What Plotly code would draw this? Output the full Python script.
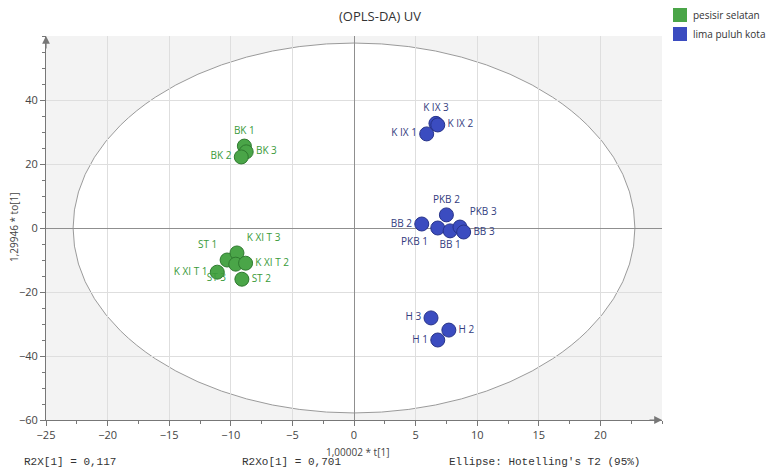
import plotly.graph_objects as go

# ---- data ----
green_labels = ["BK 1", "BK 3", "BK 2", "ST 1", "K XI T 3", "ST 3", "K XI T 2", "K XI T 1", "ST 2"]
green_x = [-8.9, -8.75, -9.15, -10.3, -9.5, -9.6, -8.8, -11.1, -9.1]
green_y = [25.6, 23.8, 22.2, -10.0, -7.8, -11.3, -11.0, -13.8, -16.0]
green_pos = ["top center", "middle right", "middle left", "top left", "top right",
             "bottom left", "middle right", "middle left", "middle right"]

blue_labels = ["K IX 3", "K IX 2", "K IX 1", "PKB 2", "BB 2", "PKB 1", "BB 1", "PKB 3", "BB 3",
               "H 3", "H 2", "H 1"]
blue_x = [6.65, 6.8, 5.9, 7.5, 5.5, 6.8, 7.8, 8.6, 8.9, 6.25, 7.7, 6.8]
blue_y = [32.7, 32.2, 29.4, 4.1, 1.25, 0.0, -0.9, 0.3, -1.25, -28.1, -31.9, -35.0]
blue_pos = ["top center", "middle right", "middle left", "top center", "middle left", "bottom left",
            "bottom center", "top right", "middle right", "middle left", "middle right", "middle left"]

legend_names = ["pesisir selatan", "lima puluh kota"]
x_ticks = [-25, -20, -15, -10, -5, 0, 5, 10, 15, 20]
y_ticks = [-60, -40, -20, 0, 20, 40]
ellipse_a = 22.8
ellipse_b = 57.8

GREEN = "#4aa548"
GREEN_EDGE = "#2f7a2f"
BLUE = "#3b4cc0"
BLUE_EDGE = "#27338a"
FONT = "Open Sans"

W, H = 771, 472
ML, MR, MT, MB = 46, 109, 36, 52
PW, PH = W - ML - MR, H - MT - MB


def px_x(px):
    return (px - ML) / PW


def px_y(py):
    return (H - MB - py) / PH


fig = go.Figure()

fig.add_trace(go.Scatter(
    x=green_x, y=green_y, text=green_labels, mode="markers+text", name=legend_names[0],
    textposition=green_pos, showlegend=False,
    marker=dict(size=14, color=GREEN, line=dict(color=GREEN_EDGE, width=1)),
    textfont=dict(family=FONT, size=10, color="#3a9a3a"),
    cliponaxis=False,
))
fig.add_trace(go.Scatter(
    x=blue_x, y=blue_y, text=blue_labels, mode="markers+text", name=legend_names[1],
    textposition=blue_pos, showlegend=False,
    marker=dict(size=14, color=BLUE, line=dict(color=BLUE_EDGE, width=1)),
    textfont=dict(family=FONT, size=10, color="#333d80"),
    cliponaxis=False,
))

shapes = [
    dict(type="circle", xref="x", yref="y", x0=-ellipse_a, x1=ellipse_a, y0=-ellipse_b, y1=ellipse_b,
         fillcolor="white", line=dict(color="#9a9a9a", width=1), layer="below"),
]

annotations = [
    # axis arrowheads
    dict(x=-25, y=60, xref="x", yref="y", ax=0, ay=14, text="",
         showarrow=True, arrowhead=2, arrowsize=1.3, arrowwidth=1.2, arrowcolor="#777"),
    dict(x=25, y=-60, xref="x", yref="y", ax=-14, ay=0, text="",
         showarrow=True, arrowhead=2, arrowsize=1.3, arrowwidth=1.2, arrowcolor="#777"),
    # axis titles
    dict(x=px_x(357), y=px_y(452), xref="paper", yref="paper", text="1,00002 * t[1]", showarrow=False,
         font=dict(family=FONT, size=10, color="#444"), xanchor="center", yanchor="middle"),
    dict(x=px_x(14), y=px_y(228), xref="paper", yref="paper", text="1,29946 * to[1]", showarrow=False,
         textangle=-90, font=dict(family=FONT, size=10, color="#444"), xanchor="center", yanchor="middle"),
    # bottom statistics
    dict(x=px_x(22), y=px_y(462), xref="paper", yref="paper", text="R2X[1] = 0,117", showarrow=False,
         font=dict(family="Liberation Mono", size=11, color="#333"), xanchor="left", yanchor="middle"),
    dict(x=px_x(240), y=px_y(462), xref="paper", yref="paper", text="R2Xo[1] = 0,701", showarrow=False,
         font=dict(family="Liberation Mono", size=11, color="#333"), xanchor="left", yanchor="middle"),
    dict(x=px_x(447), y=px_y(462), xref="paper", yref="paper", text="Ellipse: Hotelling's T2 (95%)",
         showarrow=False,
         font=dict(family="Liberation Mono", size=11, color="#333"), xanchor="left", yanchor="middle"),
]

# manual legend (square swatches)
for i, (nm, col) in enumerate(zip(legend_names, [GREEN, BLUE])):
    top = 8 + i * 19
    shapes.append(dict(type="rect", xref="paper", yref="paper",
                       x0=px_x(673), x1=px_x(687), y0=px_y(top + 14), y1=px_y(top),
                       fillcolor=col, line=dict(width=0)))
    annotations.append(dict(x=px_x(691), y=px_y(top + 7), xref="paper", yref="paper", text=nm,
                            showarrow=False, xanchor="left", yanchor="middle",
                            font=dict(family=FONT, size=10, color="#333")))

axis_common = dict(
    showgrid=True, gridcolor="#dedede", gridwidth=1,
    zeroline=True, zerolinecolor="#8f8f8f", zerolinewidth=1,
    showline=True, linecolor="#777", linewidth=1,
    ticks="outside", ticklen=5, tickcolor="#777",
    tickfont=dict(family=FONT, size=11, color="#444"),
    tickmode="array",
)

fig.update_layout(
    width=W, height=H,
    margin=dict(l=ML, r=MR, t=MT, b=MB),
    paper_bgcolor="white", plot_bgcolor="#f3f3f3",
    showlegend=False,
    title=dict(text="(OPLS-DA) UV", x=380 / W, xref="container", y=1 - 16 / H, yref="container",
               xanchor="center", yanchor="middle",
               font=dict(family=FONT, size=13, color="#333")),
    xaxis=dict(range=[-25, 25], tickvals=x_ticks,
               minor=dict(tickmode="linear", tick0=0, dtick=2.5, ticks="outside", ticklen=3,
                          tickcolor="#777", showgrid=False),
               **axis_common),
    yaxis=dict(range=[-60, 60], tickvals=y_ticks,
               minor=dict(tickmode="linear", tick0=0, dtick=5, ticks="outside", ticklen=3,
                          tickcolor="#777", showgrid=False),
               **axis_common),
    shapes=shapes,
    annotations=annotations,
    font=dict(family=FONT),
)

fig.write_html("out.html", config={"displayModeBar": False},
               post_script="document.body.style.margin='0';document.body.style.padding='0';")
